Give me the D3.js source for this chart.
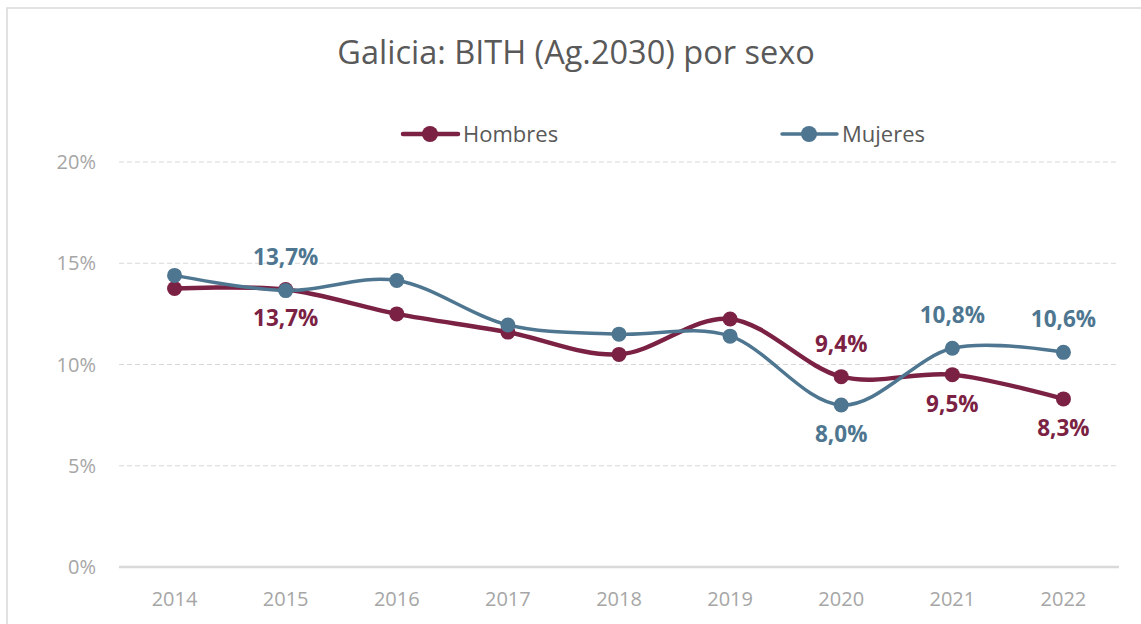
<!DOCTYPE html>
<html lang="es">
<head>
<meta charset="UTF-8">
<title>Galicia: BITH por sexo</title>
<script src="https://d3js.org/d3.v7.min.js"></script>
<style>
  body { margin: 0; background: #fff; }
  text { font-family: "Open Sans", "Lato", sans-serif; }
</style>
</head>
<body>
<svg width="1141" height="624"></svg>
<script>
// data
const years = ["2014", "2015", "2016", "2017", "2018", "2019", "2020", "2021", "2022"];
const hombres = [13.75, 13.7, 12.5, 11.6, 10.5, 12.25, 9.4, 9.5, 8.3];
const mujeres = [14.4, 13.65, 14.15, 11.95, 11.5, 11.4, 8.0, 10.8, 10.6];
const yTicks = [0, 5, 10, 15, 20];
// which points get a label, and where (1 = above, -1 = below)
const hombresLabels = { "2015": -1, "2020": 1, "2021": -1, "2022": -1 };
const mujeresLabels = { "2015": 1, "2020": -1, "2021": 1, "2022": 1 };

const svg = d3.select("svg");
const W = 1141, H = 624;

// chart frame
svg.append("rect")
  .attr("x", 7).attr("y", 8)
  .attr("width", W + 10).attr("height", H + 10)
  .attr("fill", "#fff")
  .attr("stroke", "#D9D9D9").attr("stroke-width", 1.5);

const margin = { left: 119, right: 22, top: 162, bottom: 57 };

const x = d3.scaleBand()
  .domain(years)
  .range([margin.left, W - margin.right]);

const y = d3.scaleLinear()
  .domain([0, 20])
  .range([H - margin.bottom, margin.top]);

const cx = d => x(d) + x.bandwidth() / 2;

// title
svg.append("text")
  .attr("x", 576).attr("y", 64)
  .attr("text-anchor", "middle")
  .attr("font-size", 32.5)
  .attr("fill", "#595959")
  .text("Galicia: BITH (Ag.2030) por sexo");

// gridlines
svg.append("g")
  .selectAll("line")
  .data(yTicks)
  .join("line")
  .attr("x1", margin.left).attr("x2", W - margin.right)
  .attr("y1", d => y(d)).attr("y2", d => y(d))
  .attr("stroke", "#D9D9D9")
  .attr("stroke-width", d => d === 0 ? 2.5 : 1)
  .attr("stroke-dasharray", d => d === 0 ? null : "5,3");

// y axis labels
svg.append("g")
  .selectAll("text")
  .data(yTicks)
  .join("text")
  .attr("x", 96)
  .attr("y", d => y(d))
  .attr("dy", "0.35em")
  .attr("text-anchor", "end")
  .attr("font-size", 20)
  .attr("fill", "#A6A6A6")
  .text(d => d + "%");

// x axis labels
svg.append("g")
  .selectAll("text")
  .data(years)
  .join("text")
  .attr("x", d => cx(d))
  .attr("y", H - margin.bottom + 32)
  .attr("dy", "0.35em")
  .attr("text-anchor", "middle")
  .attr("font-size", 20)
  .attr("fill", "#A6A6A6")
  .text(d => d);

const line = d3.line()
  .x((d, i) => cx(years[i]))
  .y(d => y(d))
  .curve(d3.curveCatmullRom.alpha(0));

const fmt = v => v.toFixed(1).replace(".", ",") + "%";

function drawSeries(values, color, width, labels) {
  const g = svg.append("g");
  g.append("path")
    .datum(values)
    .attr("d", line)
    .attr("fill", "none")
    .attr("stroke", color)
    .attr("stroke-width", width)
    .attr("stroke-linecap", "round");
  g.selectAll("circle")
    .data(values)
    .join("circle")
    .attr("cx", (d, i) => cx(years[i]))
    .attr("cy", d => y(d))
    .attr("r", 7.5)
    .attr("fill", color);
  g.selectAll("text")
    .data(years.filter(yr => labels[yr] !== undefined))
    .join("text")
    .attr("x", yr => cx(yr))
    .attr("y", yr => y(values[years.indexOf(yr)]) - (labels[yr] > 0 ? 33 : -29))
    .attr("dy", "0.35em")
    .attr("text-anchor", "middle")
    .attr("font-size", 22.5)
    .attr("font-weight", "bold")
    .attr("fill", color)
    .text(yr => fmt(values[years.indexOf(yr)]));
}

drawSeries(hombres, "#7B2143", 4.5, hombresLabels);
drawSeries(mujeres, "#4E7690", 3.5, mujeresLabels);

// legend
const legend = [
  { name: "Hombres", color: "#7B2143", w: 4.5, x: 403 },
  { name: "Mujeres", color: "#4E7690", w: 3.5, x: 782 }
];
const lg = svg.append("g").selectAll("g").data(legend).join("g")
  .attr("transform", d => `translate(${d.x},134)`);
lg.append("line")
  .attr("x1", 0).attr("x2", 55)
  .attr("stroke", d => d.color).attr("stroke-width", d => d.w)
  .attr("stroke-linecap", "round");
lg.append("circle")
  .attr("cx", 27).attr("r", 8)
  .attr("fill", d => d.color);
lg.append("text")
  .attr("x", 60).attr("dy", "0.35em")
  .attr("font-size", 22)
  .attr("fill", "#595959")
  .text(d => d.name);
</script>
</body>
</html>
